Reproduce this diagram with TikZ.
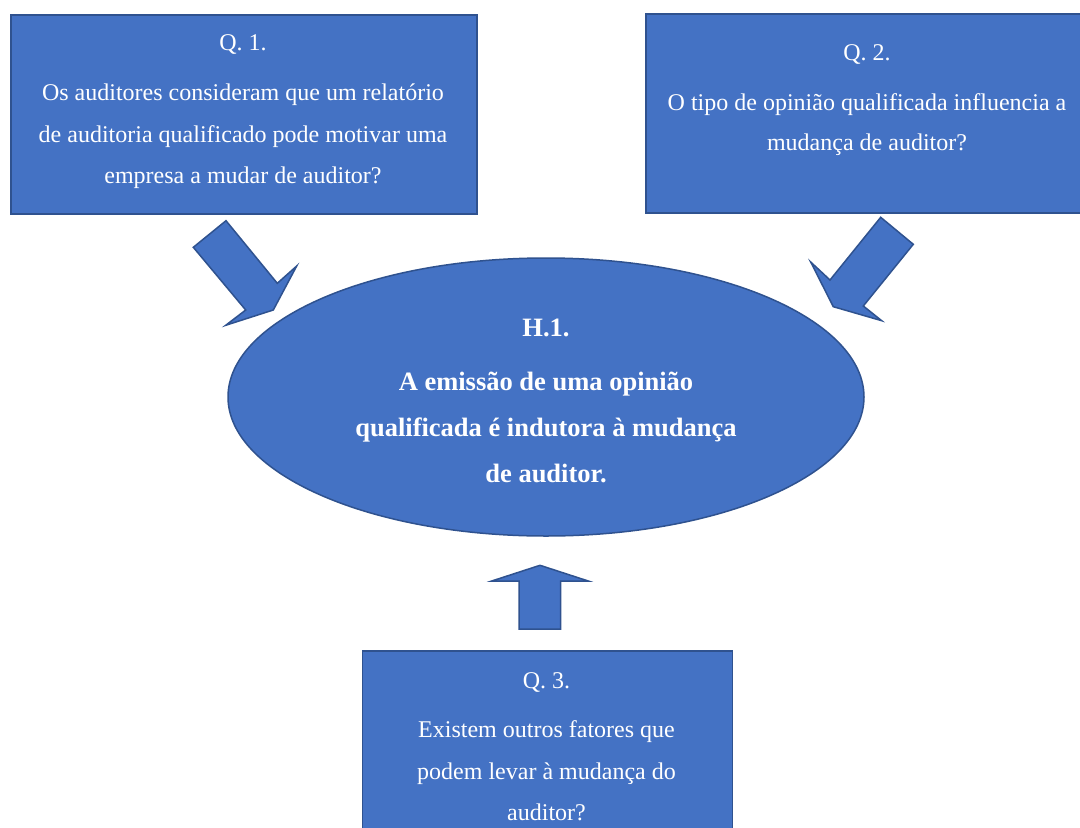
\documentclass[tikz,border=0pt]{standalone}
\usepackage{fontspec}
\setmainfont{Liberation Serif}
\usetikzlibrary{shapes.geometric}
\definecolor{fillblue}{HTML}{4472C4}
\definecolor{lineblue}{HTML}{2F528F}
\begin{document}
\begin{tikzpicture}[x=1pt,y=-1pt,
  qbox/.style={draw=lineblue, fill=fillblue, line width=1.5pt, inner sep=0pt},
  qtext/.style={text=white, font=\fontsize{24}{28}\selectfont, anchor=base, inner sep=0pt},
  htext/.style={text=white, font=\fontsize{26.5}{30}\selectfont\bfseries, anchor=base, inner sep=0pt},
  blockarrow/.style={draw=lineblue, fill=fillblue, line width=1.5pt, line join=miter}]
\useasboundingbox (0,0) rectangle (1080,828);
\clip (0,0) rectangle (1080,828);

% boxes
\node[qbox, rectangle, minimum width=466pt, minimum height=199pt, anchor=north west] (q1) at (10,14) {};
\node[qbox, rectangle, minimum width=444pt, minimum height=199pt, anchor=north west] (q2) at (645,13) {};
\node[qbox, rectangle, minimum width=370pt, minimum height=200pt, anchor=north west] (q3) at (361.5,650) {};
\node[qbox, ellipse, minimum width=636pt, minimum height=278pt] (h1) at (546,397) {};

% block arrows
\draw[blockarrow] (193.3,247.3) -- (226,220.7) -- (277.3,283.3) -- (296.7,266) -- (273.3,310) -- (225.7,325.3) -- (245.7,310) -- cycle;
\draw[blockarrow] (880.7,217.3) -- (913.3,244.3) -- (863.3,306) -- (881.7,320.7) -- (833.3,306.7) -- (810.7,262) -- (830,280) -- cycle;
\draw[blockarrow] (540,565.3) -- (588.3,581) -- (560.7,581) -- (560.7,629) -- (519,629) -- (519,581) -- (491.7,581) -- cycle;

% texts box 1
\node[qtext] (q1a) at (243,50) {Q. 1.};
\node[qtext] (q1b) at (243,100) {Os auditores consideram que um relatório};
\node[qtext] (q1c) at (243,142) {de auditoria qualificado pode motivar uma};
\node[qtext] (q1d) at (243,183) {empresa a mudar de auditor?};

% texts box 2
\node[qtext] (q2a) at (867,60) {Q. 2.};
\node[qtext] (q2b) at (867,110) {O tipo de opinião qualificada influencia a};
\node[qtext] (q2c) at (867,150) {mudança de auditor?};

% texts box 3
\node[qtext] (q3a) at (546.5,688) {Q. 3.};
\node[qtext] (q3b) at (546.5,737) {Existem outros fatores que};
\node[qtext] (q3c) at (546.5,779) {podem levar à mudança do};
\node[qtext] (q3d) at (546.5,820) {auditor?};

% ellipse texts
\node[htext] (h1a) at (546,336) {H.1.};
\node[htext] (h1b) at (546,390) {A emissão de uma opinião};
\node[htext] (h1c) at (546,436) {qualificada é indutora à mudança};
\node[htext] (h1d) at (546,482) {de auditor.};
\end{tikzpicture}
\end{document}
